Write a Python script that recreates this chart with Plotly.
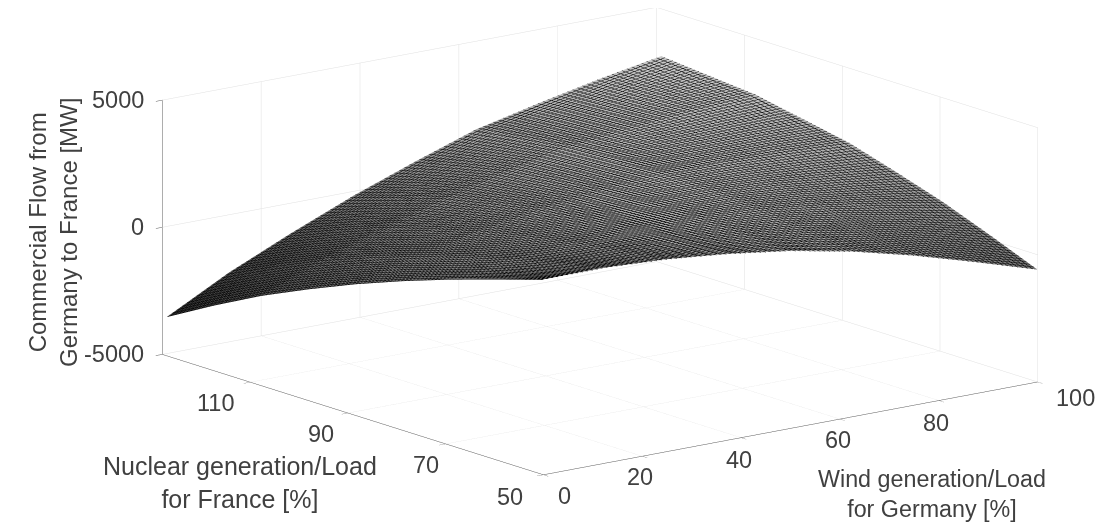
import plotly.graph_objects as go

wind_pct = [0, 12.5, 25, 37.5, 50, 62.5, 75, 87.5, 100]
nuclear_pct = [50, 59.625, 69.25, 78.875, 88.5, 98.125, 107.75, 117.375, 127]
# flow[i][j]: row = nuclear value, column = wind value
flow_mw = [
    [2676, 2686, 2559, 2314, 1973, 1494, 879, 166, -586],
    [2107, 2288, 2325, 2248, 2072, 1768, 1312, 764, 173],
    [1518, 1866, 2064, 2153, 2141, 2011, 1710, 1325, 894],
    [873, 1383, 1733, 1980, 2124, 2158, 2007, 1777, 1496],
    [167, 840, 1346, 1755, 2057, 2261, 2259, 2190, 2062],
    [-617, 204, 852, 1407, 1853, 2210, 2344, 2419, 2430],
    [-1458, -481, 316, 1024, 1621, 2139, 2419, 2642, 2800],
    [-2422, -1299, -364, 488, 1226, 1895, 2309, 2675, 2969],
    [-3457, -2178, -1094, -88, 801, 1631, 2187, 2705, 3145],
]
x_ticks = [0, 20, 40, 60, 80, 100]
x_labels = ["0", "20", "40", "60", "80", "100"]
x_label_shift = [(21, 21), (-2, 21), (-2, 22), (-2, 21), (-3, 22), (38, 16)]
y_ticks = [50, 70, 90, 110, 128]
y_labels = ["50", "70", "90", "110"]
y_label_shift = [(-33, 22), (-20, 21), (-27, 21), (-35, 21)]
z_ticks = [-5000, 0, 5000]
z_labels = ["-5000", "0", "5000"]

TEXT = "#404040"
FONT = "Liberation Sans"
R = 5.0
S = 2.59

def axis(**kw):
    return dict(showbackground=False, gridcolor="#e0e0e0", gridwidth=1, showline=True,
                linecolor="#5a5a5a", linewidth=1, ticks="outside", ticklen=8, tickcolor="#5a5a5a",
                zeroline=False, showspikes=False, title=dict(text=""), showticklabels=False, **kw)

fig = go.Figure(go.Surface(
    x=wind_pct, y=nuclear_pct, z=flow_mw,
    colorscale=[[0, "#303030"], [1, "#c8c8c8"]], cmin=-3500, cmax=3150, showscale=False,
    lighting=dict(ambient=1, diffuse=0, specular=0, roughness=1, fresnel=0),
    contours=dict(
        x=dict(show=True, start=0, end=100, size=1, color="#000000", width=1),
        y=dict(show=True, start=50, end=127, size=0.77, color="#000000", width=1),
        z=dict(show=False),
    ),
    hoverinfo="skip",
))

tick_font = dict(family=FONT, size=23.5, color=TEXT)
titles = [
    ("Commercial Flow from<br>Germany to France [MW]", 45, 225, -90, 24),
    ("Nuclear generation/Load<br>for France [%]", 231.5, 474, 0, 25),
    ("Wind generation/Load<br>for Germany [%]", 923.5, 486, 0, 23.3),
]

tick_notes = []
for v, t, (dx, dy) in zip(x_ticks, x_labels, x_label_shift):
    tick_notes.append(dict(x=v, y=50, z=-5000, text=t, showarrow=False, xshift=dx, yshift=-dy, font=tick_font))
for v, t, (dx, dy) in zip(y_ticks, y_labels, y_label_shift):
    tick_notes.append(dict(x=0, y=v, z=-5000, text=t, showarrow=False, xshift=dx, yshift=-dy, font=tick_font))
for v, t in zip(z_ticks, z_labels):
    tick_notes.append(dict(x=0, y=128, z=v, text=t, showarrow=False, xanchor="right", xshift=-16, font=tick_font))

fig.update_layout(
    width=1117, height=524, margin=dict(l=0, r=0, t=0, b=0),
    paper_bgcolor="white", showlegend=False,
    scene=dict(
        domain=dict(x=[0.0671, 0.993], y=[0.0802, 1]),
        xaxis=axis(range=[0, 100], tickvals=x_ticks),
        yaxis=axis(range=[50, 128], tickvals=y_ticks),
        zaxis=axis(range=[-5000, 5000], tickvals=z_ticks),
        aspectmode="manual", aspectratio=dict(x=S, y=S, z=0.42 * S),
        camera=dict(projection=dict(type="orthographic"),
                    eye=dict(x=-0.593 * R, y=-0.769 * R, z=0.237 * R),
                    center=dict(x=0, y=0, z=-0.034), up=dict(x=0, y=0, z=1)),
        annotations=tick_notes,
    ),
    annotations=[
        dict(text=t, x=x / 1117, y=1 - y / 524, textangle=a, xanchor="center", yanchor="middle",
             xref="paper", yref="paper", showarrow=False, font=dict(family=FONT, size=s, color=TEXT))
        for t, x, y, a, s in titles
    ],
)
fig.write_html("out.html")
